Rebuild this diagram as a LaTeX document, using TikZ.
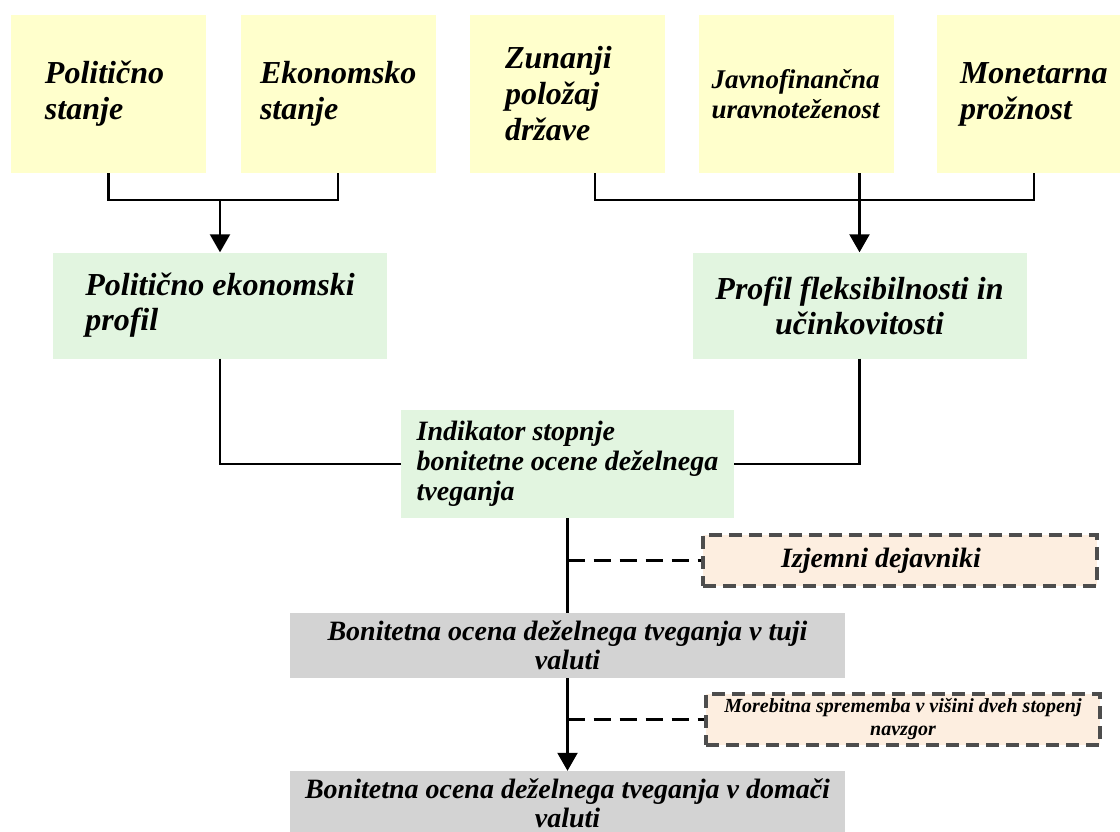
\documentclass[tikz,border=0pt]{standalone}
\usepackage{fontspec}
\setmainfont{Liberation Serif}
\usepackage{xcolor}
\usetikzlibrary{arrows.meta,positioning}
\definecolor{factorfill}{HTML}{FFFFCC}
\definecolor{profilefill}{HTML}{E2F5E0}
\definecolor{ratingfill}{HTML}{D3D3D3}
\definecolor{adjustfill}{HTML}{FDEEE0}
\definecolor{adjustline}{HTML}{4D4D4D}
\tikzset{
  factor/.style={fill=factorfill,minimum width=195,minimum height=158,inner sep=0,
    align=left,font=\bfseries\itshape\fontsize{32}{36}\selectfont},
  profile/.style={fill=profilefill,minimum width=334,minimum height=106,inner sep=0,
    font=\bfseries\itshape\fontsize{32}{35}\selectfont},
  rating/.style={fill=ratingfill,minimum width=555,minimum height=65,inner sep=0,
    align=center,font=\bfseries\itshape\fontsize{28}{29}\selectfont},
  adjust/.style={fill=adjustfill,draw=adjustline,line width=3.2pt,
    dash pattern=on 13pt off 7pt,minimum width=394,minimum height=51,inner sep=0,
    align=center,font=\bfseries\itshape},
  link/.style={line width=2.2pt},
  hint/.style={line width=2.2pt,dash pattern=on 17pt off 9pt},
  arrow/.style={line width=2.2pt,-{Triangle[length=18pt,width=20pt]}}
}
\begin{document}
\begin{tikzpicture}[x=1pt,y=-1pt]
  \clip (0,0) rectangle (1120,832);
  \fill[white] (0,0) rectangle (1120,832);

  % input factors
  \node[factor,text width=127] (polst) at (108.5,94) {Politično\\stanje};
  \node[factor,text width=156] (ekst) at (338,94) {Ekonomsko\\stanje};
  \node[factor,text width=124] (zun) at (567,94) {Zunanji\\položaj\\države};
  \node[factor,text width=170,font=\bfseries\itshape\fontsize{27}{30}\selectfont]
    (javno) at (796.5,94) {Javnofinančna\\uravnoteženost};
  \node[factor,text width=148] (mon) at (1034,94) {Monetarna\\prožnost};

  % profiles
  \node[profile,align=left] (pep) at (220,305.5)
    {Politično ekonomski\\profil};
  \node[profile,align=center] (pfu) at (859.5,305.5)
    {Profil fleksibilnosti in\\učinkovitosti};

  % indicator
  \node[profile,minimum width=333,minimum height=108,align=left,
    font=\bfseries\itshape\fontsize{28}{30}\selectfont] (ind) at (567.5,464)
    {Indikator stopnje\\bonitetne ocene deželnega\\tveganja};

  % ratings and adjustments
  \node[rating] (tuji) at (567.5,645.5)
    {Bonitetna ocena deželnega tveganja v tuji\\valuti};
  \node[rating] (dom) at (567.5,803.5)
    {Bonitetna ocena deželnega tveganja v domači\\valuti};
  \node[adjust,font=\bfseries\itshape\fontsize{28}{30}\selectfont] (izj)
    at (900,560.5) {Izjemni dejavniki\hspace{38pt}};
  \node[adjust,font=\bfseries\itshape\fontsize{20}{23}\selectfont] (mor)
    at (903,719.5) {Morebitna sprememba v višini dveh stopenj\\navzgor};

  % joins into the profiles
  \draw[link] (polst.south) -- ++(0,27) -| (ekst.south);
  \draw[arrow] (pep.north |- 0,200) -- (pep.north);
  \draw[link] ([xshift=28pt]zun.south) -- ++(0,27) -| (mon.south);
  \draw[arrow] (javno.south -| pfu.north) -- (pfu.north);

  % profiles into the indicator
  \draw[link] (pep.south) |- (ind.west);
  \draw[link] (pfu.south) |- (ind.east);

  % down to the ratings
  \draw[link] (ind.south) -- (tuji.north);
  \draw[arrow] (tuji.south) -- (dom.north);
  \draw[hint] (izj.west -| ind.south) -- (izj.west);
  \draw[hint] (mor.west -| tuji.south) -- (mor.west);
\end{tikzpicture}
\end{document}
